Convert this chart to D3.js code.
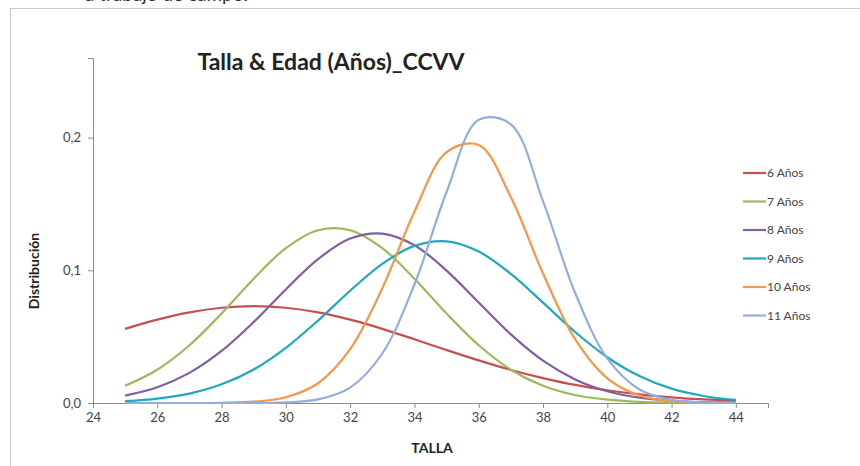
<!DOCTYPE html>
<html>
<head>
<meta charset="utf-8">
<script src="https://cdn.jsdelivr.net/npm/d3@7"></script>
<style>
  body { margin: 0; background: #fff; }
  svg { display: block; }
</style>
</head>
<body>
<svg id="chart" width="860" height="466"></svg>
<script>
// talla (cm) sampled every 1 unit
var talla = [25, 26, 27, 28, 29, 30, 31, 32, 33, 34, 35, 36, 37, 38, 39, 40, 41, 42, 43, 44];

var seriesNames = ["6 Años", "7 Años", "8 Años", "9 Años", "10 Años", "11 Años"];

var anios6  = [0.0559, 0.0628, 0.0683, 0.0718, 0.0730, 0.0718, 0.0683, 0.0628, 0.0559, 0.0480, 0.0399, 0.0321, 0.0249, 0.0188, 0.0136, 0.0096, 0.0065, 0.0043, 0.0027, 0.0017];
var anios7  = [0.0130, 0.0251, 0.0435, 0.0674, 0.0937, 0.1167, 0.1302, 0.1302, 0.1167, 0.0937, 0.0674, 0.0435, 0.0251, 0.0130, 0.0060, 0.0025, 0.0009, 0.0003, 0.0001, 0.0000];
var anios8  = [0.0056, 0.0119, 0.0227, 0.0392, 0.0610, 0.0856, 0.1084, 0.1239, 0.1277, 0.1189, 0.0998, 0.0757, 0.0517, 0.0319, 0.0178, 0.0089, 0.0040, 0.0017, 0.0006, 0.0002];
var anios9  = [0.0014, 0.0033, 0.0071, 0.0141, 0.0253, 0.0416, 0.0621, 0.0846, 0.1049, 0.1184, 0.1218, 0.1141, 0.0973, 0.0756, 0.0535, 0.0345, 0.0203, 0.0108, 0.0053, 0.0023];
var anios10 = [0.0000, 0.0000, 0.0000, 0.0002, 0.0010, 0.0043, 0.0149, 0.0406, 0.0864, 0.1442, 0.1890, 0.1945, 0.1551, 0.0976, 0.0481, 0.0186, 0.0056, 0.0013, 0.0002, 0.0000];
var anios11 = [0.0000, 0.0000, 0.0000, 0.0000, 0.0001, 0.0005, 0.0027, 0.0116, 0.0373, 0.0893, 0.1590, 0.2135, 0.2100, 0.1521, 0.0829, 0.0336, 0.0102, 0.0023, 0.0004, 0.0000];

var xTicks = [24, 26, 28, 30, 32, 34, 36, 38, 40, 42, 44];
var yTicks = [0, 0.1, 0.2];

var colors = ["#C6504D", "#9BBB59", "#7F5FA0", "#20A8BC", "#F79646", "#92AEDA"];
var allSeries = [anios6, anios7, anios8, anios9, anios10, anios11];

var svg = d3.select("#chart");
var font = "Lato, 'Open Sans', sans-serif";

// cut text from the page above
svg.append("text")
  .attr("x", 248).attr("y", 1)
  .attr("text-anchor", "end")
  .attr("font-family", font)
  .attr("font-size", "19px")
  .attr("fill", "#333")
  .text("a trabajo de campo.");

// chart frame (runs past the picture edges)
svg.append("rect")
  .attr("x", 10.5).attr("y", 8.5)
  .attr("width", 900).attr("height", 500)
  .attr("fill", "#fff")
  .attr("stroke", "#c8c8c8");

var x = d3.scaleLinear().domain([24, 45]).range([93, 768]);
var y = d3.scaleLinear().domain([0, 0.26]).range([403, 58]);

// axes
var xAxis = d3.axisBottom(x).tickValues(xTicks).tickSize(5).tickFormat(d3.format("d"));
var gx = svg.append("g").attr("transform", "translate(0," + y(0) + ")").call(xAxis);
var yAxis = d3.axisLeft(y).tickValues(yTicks).tickSize(5)
  .tickFormat(function(d) { return d3.format(".1f")(d).replace(".", ","); });
var gy = svg.append("g").attr("transform", "translate(" + x(24) + ",0)").call(yAxis);

[gx, gy].forEach(function(g) {
  g.select(".domain").attr("stroke", "#8c8c8c");
  g.selectAll(".tick line").attr("stroke", "#8c8c8c");
  g.selectAll(".tick text")
    .attr("font-family", font)
    .attr("font-size", "13px")
    .attr("fill", "#444");
});
gx.selectAll(".tick text").attr("dy", "0.85em");
gy.selectAll(".tick text").attr("dx", "-0.3em");

// curves
var line = d3.line()
  .x(function(d, i) { return x(talla[i]); })
  .y(function(d) { return y(d); })
  .curve(d3.curveCatmullRom.alpha(0.5));

svg.selectAll("path.serie")
  .data(allSeries)
  .enter()
  .append("path")
  .attr("class", "serie")
  .attr("d", line)
  .attr("fill", "none")
  .attr("stroke", function(d, i) { return colors[i]; })
  .attr("stroke-width", 2.2);

// title
svg.append("text")
  .attr("x", 331).attr("y", 70)
  .attr("text-anchor", "middle")
  .attr("font-family", font)
  .attr("font-weight", "bold")
  .attr("font-size", "23px")
  .attr("fill", "#222")
  .text("Talla & Edad (Años)_CCVV");

// axis titles
svg.append("text")
  .attr("x", 432).attr("y", 453)
  .attr("text-anchor", "middle")
  .attr("font-family", font)
  .attr("font-weight", "bold")
  .attr("font-size", "14px")
  .attr("fill", "#222")
  .text("TALLA");

svg.append("text")
  .attr("transform", "translate(39,271) rotate(-90)")
  .attr("text-anchor", "middle")
  .attr("font-family", font)
  .attr("font-weight", "bold")
  .attr("font-size", "14px")
  .attr("fill", "#222")
  .text("Distribución");

// legend
var legend = svg.selectAll("g.leg")
  .data(seriesNames)
  .enter()
  .append("g")
  .attr("class", "leg")
  .attr("transform", function(d, i) { return "translate(743," + (173 + i * 28.5) + ")"; });

legend.append("line")
  .attr("x1", 0).attr("x2", 23)
  .attr("stroke", function(d, i) { return colors[i]; })
  .attr("stroke-width", 2.2);

legend.append("text")
  .attr("x", 24).attr("dy", "0.35em")
  .attr("font-family", font)
  .attr("font-size", "12px")
  .attr("fill", "#444")
  .text(function(d) { return d; });
</script>
</body>
</html>
